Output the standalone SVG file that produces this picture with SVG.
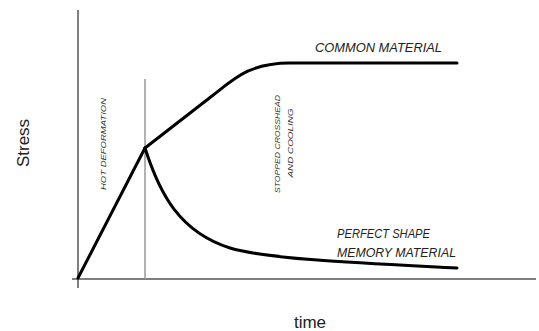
<svg xmlns="http://www.w3.org/2000/svg" width="539" height="331" viewBox="0 0 539 331">
<style>
.axis{stroke:#555;stroke-width:1.5;fill:none}
.guide{stroke:#999;stroke-width:1.5;fill:none}
.curve{stroke:#000;stroke-width:3;fill:none;stroke-linejoin:round;stroke-linecap:round}
.lbl{font-family:"Liberation Sans",Arial,sans-serif;font-style:italic;fill:#222}
.small{font-family:"Liberation Sans",Arial,sans-serif;font-style:italic;fill:#333;font-size:7.5px}
.axlbl{font-family:"Liberation Sans",Arial,sans-serif;fill:#222;font-size:17px}
</style>
<rect width="539" height="331" fill="#fff"/>
<g id="axes">
<line class="axis" x1="78" y1="10" x2="78" y2="288"/>
<line class="axis" x1="72" y1="279" x2="536" y2="279"/>
<line class="guide" x1="145" y1="79" x2="145" y2="279"/>
</g>
<g id="connectors">
<path class="curve" d="M78,278 L145,148"/>
<path class="curve" d="M145,148 L212,96 C235,78 250,63 290,63 L457,63"/>
<path class="curve" d="M145,148 C160,195 180,232 230,248 C270,260 380,264 457,268"/>
</g>
<g id="labels">
<text class="lbl" x="315" y="52" font-size="12" textLength="127" lengthAdjust="spacingAndGlyphs">COMMON MATERIAL</text>
<text class="lbl" x="337" y="238" font-size="12" textLength="93" lengthAdjust="spacingAndGlyphs">PERFECT SHAPE</text>
<text class="lbl" x="337" y="257" font-size="12" textLength="119" lengthAdjust="spacingAndGlyphs">MEMORY MATERIAL</text>
<text class="small" transform="translate(280,144) rotate(-90)" text-anchor="middle" textLength="98" lengthAdjust="spacingAndGlyphs">STOPPED CROSSHEAD</text>
<text class="small" transform="translate(293,143) rotate(-90)" text-anchor="middle" textLength="69" lengthAdjust="spacingAndGlyphs">AND COOLING</text>
<text class="small" transform="translate(106,144) rotate(-90)" text-anchor="middle" textLength="92" lengthAdjust="spacingAndGlyphs">HOT DEFORMATION</text>
<text class="axlbl" transform="translate(29,143) rotate(-90)" text-anchor="middle">Stress</text>
<text class="axlbl" x="310" y="328" text-anchor="middle">time</text>
</g>
</svg>
